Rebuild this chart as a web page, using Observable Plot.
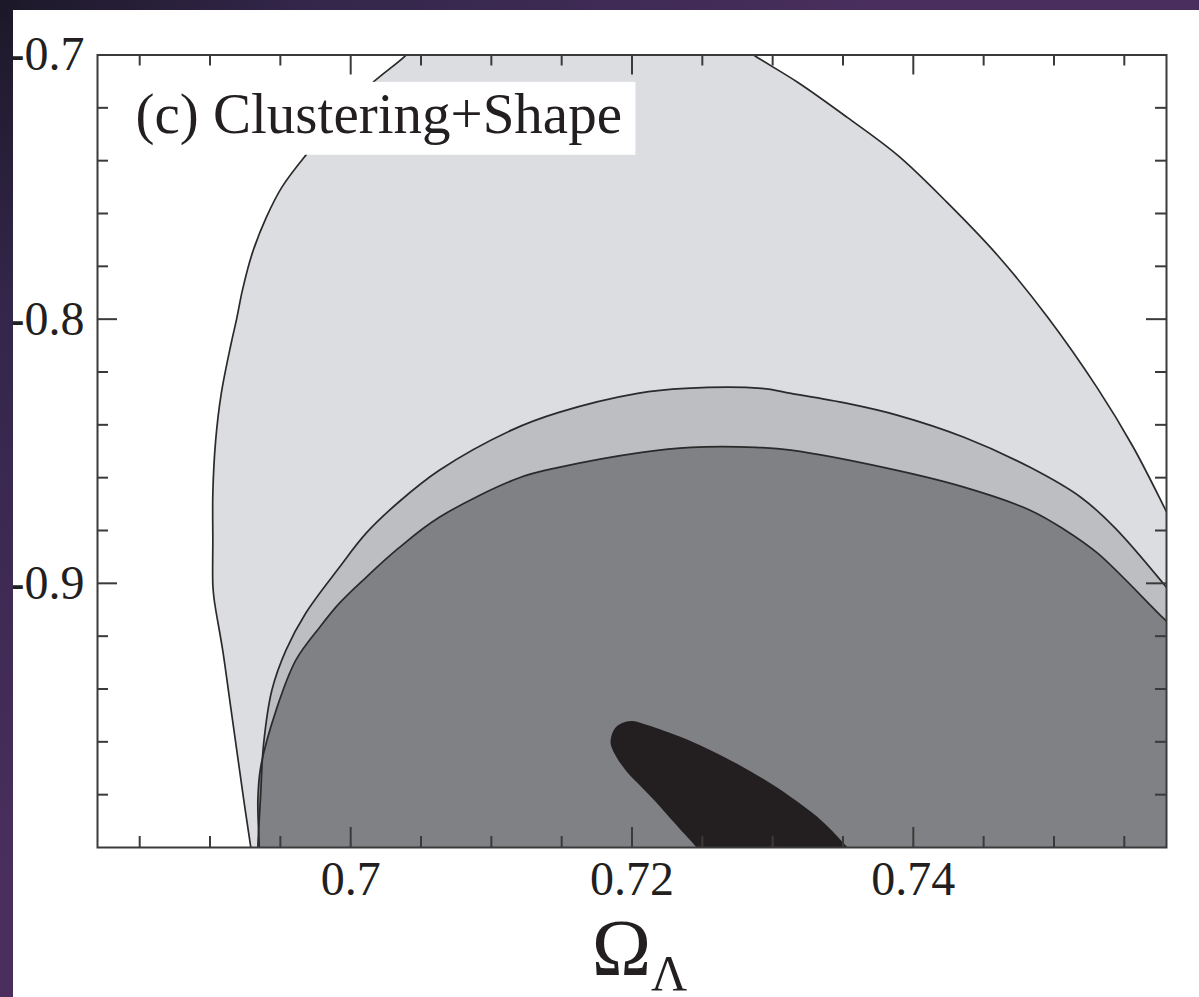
<!DOCTYPE html>
<html>
<head>
<meta charset="utf-8">
<script src="https://cdn.jsdelivr.net/npm/d3@7"></script>
<script src="https://cdn.jsdelivr.net/npm/@observablehq/plot@0.6"></script>
<style>
  html, body { margin: 0; padding: 0; }
  body {
    width: 1199px; height: 997px; overflow: hidden; position: relative;
    background: radial-gradient(circle at 0 0, #1c1828 0px, #33264a 300px, #4a2f5e 900px);
  }
  #panel {
    position: absolute; left: 13px; top: 10px; width: 1186px; height: 987px;
    background: #ffffff; overflow: hidden;
  }
</style>
</head>
<body>
<div id="panel"></div>
<script>
// ---- axes ----
const xDomain = [0.682, 0.758];
const yDomain = [-1.0, -0.7];
const xLabels = [0.7, 0.72, 0.74];
const xMinor = [0.685, 0.69, 0.695, 0.705, 0.71, 0.715, 0.725, 0.73, 0.735, 0.745, 0.75, 0.755];
const yLabels = [-0.9, -0.8, -0.7];
const yMinor = [-0.98, -0.96, -0.94, -0.92, -0.88, -0.86, -0.84, -0.82, -0.78, -0.76, -0.74, -0.72];
const panelLabel = "(c) Clustering+Shape";

// ---- contours [Omega_Lambda, w] ----
const outerLeft = [
  [0.6930, -1.0036], [0.6929, -1.0], [0.6924, -0.9821], [0.6919, -0.9631], [0.6914, -0.9442],
  [0.6909, -0.9253], [0.6903, -0.9064], [0.6902, -0.9007], [0.6902, -0.8837], [0.6902, -0.8659],
  [0.6904, -0.8459], [0.6908, -0.8281], [0.6915, -0.8092], [0.6919, -0.7997], [0.6923, -0.7891],
  [0.6930, -0.7751], [0.6940, -0.7615], [0.6951, -0.7501], [0.6968, -0.7380], [0.6990, -0.7244],
  [0.7014, -0.7112], [0.7039, -0.7002], [0.7045, -0.6964]
];
const outerRight = [
  [0.7277, -0.6964], [0.7287, -0.7002], [0.7318, -0.7104], [0.7353, -0.7236], [0.7389, -0.7380],
  [0.7424, -0.7558], [0.7460, -0.7759], [0.7495, -0.7989], [0.7531, -0.8262], [0.7556, -0.8481],
  [0.7577, -0.8697], [0.7587, -0.8807]
];
const middleContour = [
  [0.6934, -1.0048], [0.6934, -1.0], [0.6936, -0.9802], [0.6938, -0.9613], [0.6944, -0.9404],
  [0.6954, -0.9253], [0.6968, -0.9113], [0.6992, -0.8939], [0.7011, -0.8810], [0.7034, -0.8693],
  [0.7063, -0.8572], [0.7114, -0.8421], [0.7148, -0.8353], [0.7204, -0.8281], [0.7238, -0.8262],
  [0.7292, -0.8262], [0.7313, -0.8281], [0.7353, -0.8319], [0.7389, -0.8364], [0.7436, -0.8447],
  [0.7483, -0.8561], [0.7519, -0.8674], [0.7543, -0.8788], [0.7577, -0.8996], [0.7587, -0.9064]
];
const innerContour = [
  [0.6935, -1.0048], [0.6935, -1.0], [0.6934, -0.9821], [0.6936, -0.9696], [0.6947, -0.9480],
  [0.6961, -0.9291], [0.6978, -0.9166], [0.6992, -0.9075], [0.7011, -0.8977], [0.7034, -0.8867],
  [0.7063, -0.8750], [0.7119, -0.8602], [0.7148, -0.8561], [0.7207, -0.8504], [0.7242, -0.8485],
  [0.7288, -0.8485], [0.7313, -0.8496], [0.7382, -0.8565], [0.7436, -0.8636], [0.7483, -0.8723],
  [0.7507, -0.8795], [0.7531, -0.8886], [0.7577, -0.9128], [0.7587, -0.9177]
];
const bestFit = [
  [0.7185, -0.9586], [0.7188, -0.9548], [0.7193, -0.9529], [0.7200, -0.9521], [0.7209, -0.9533],
  [0.7233, -0.9578], [0.7254, -0.9627], [0.7275, -0.9684], [0.7297, -0.9752], [0.7318, -0.9828],
  [0.7336, -0.9904], [0.7351, -0.9987], [0.7358, -1.0032], [0.7251, -1.0032], [0.7245, -0.9994],
  [0.7238, -0.9953], [0.7227, -0.9888], [0.7217, -0.9828], [0.7206, -0.9767], [0.7196, -0.9711],
  [0.7189, -0.9658], [0.7185, -0.9612]
];

// ---- layout ----
const W = 1186, H = 987;
const mL = 84, mR = 33, mT = 44.5, mB = 150;
const innerW = W - mL - mR, innerH = H - mT - mB;
const labelDx = 38, labelDy = 77.5, labelSize = 57;

const below = yDomain[0] - 0.01, beyond = xDomain[1] + 0.003;
const closeRegion = pts => [...pts, [beyond, below], [pts[0][0], below]];
const outerRegion = closeRegion([...outerLeft, ...outerRight]);
const middleRegion = closeRegion(middleContour);
const innerRegion = closeRegion(innerContour);

const X = d => d[0], Y = d => d[1];
const lineColor = "#2a2a2a";
const axisColor = "#3a3a3a";
const serif = "'Liberation Serif', 'Times New Roman', Times, serif";

const plot = Plot.plot({
  width: W, height: H,
  marginLeft: mL, marginRight: mR, marginTop: mT, marginBottom: mB,
  x: {domain: xDomain},
  y: {domain: yDomain},
  style: {fontFamily: serif, fontSize: "48px", color: "#231f20", background: "white"},
  marks: [
    Plot.line(outerRegion, {x: X, y: Y, fill: "#dcdde0", stroke: "none", curve: "catmull-rom", clip: true}),
    Plot.line(middleRegion, {x: X, y: Y, fill: "#bdbec2", stroke: "none", curve: "catmull-rom", clip: true}),
    Plot.line(innerRegion, {x: X, y: Y, fill: "#808185", stroke: "none", curve: "catmull-rom", clip: true}),
    Plot.line(bestFit, {x: X, y: Y, fill: "#231f20", stroke: "none", curve: "catmull-rom-closed", clip: true}),
    Plot.line(outerLeft, {x: X, y: Y, stroke: lineColor, strokeWidth: 1.7, curve: "catmull-rom", clip: true}),
    Plot.line(outerRight, {x: X, y: Y, stroke: lineColor, strokeWidth: 1.7, curve: "catmull-rom", clip: true}),
    Plot.line(middleContour, {x: X, y: Y, stroke: lineColor, strokeWidth: 1.7, curve: "catmull-rom", clip: true}),
    Plot.line(innerContour, {x: X, y: Y, stroke: lineColor, strokeWidth: 1.7, curve: "catmull-rom", clip: true}),
    Plot.text([panelLabel], {frameAnchor: "top-left", dx: labelDx, dy: labelDy, lineAnchor: "bottom",
      textAnchor: "start", fontSize: labelSize, fontFamily: serif, fill: "#231f20"}),
    // inward ticks on all four sides
    Plot.ruleX(xLabels, {x: d => d, insetTop: innerH - 20, stroke: axisColor, strokeWidth: 2}),
    Plot.ruleX(xMinor, {x: d => d, insetTop: innerH - 11, stroke: axisColor, strokeWidth: 2}),
    Plot.ruleX(xLabels, {x: d => d, insetBottom: innerH - 20, stroke: axisColor, strokeWidth: 2}),
    Plot.ruleX(xMinor, {x: d => d, insetBottom: innerH - 11, stroke: axisColor, strokeWidth: 2}),
    Plot.ruleY(yLabels, {y: d => d, insetRight: innerW - 20, stroke: axisColor, strokeWidth: 2}),
    Plot.ruleY(yMinor, {y: d => d, insetRight: innerW - 11, stroke: axisColor, strokeWidth: 2}),
    Plot.ruleY(yLabels, {y: d => d, insetLeft: innerW - 20, stroke: axisColor, strokeWidth: 2}),
    Plot.ruleY(yMinor, {y: d => d, insetLeft: innerW - 11, stroke: axisColor, strokeWidth: 2}),
    Plot.frame({stroke: axisColor, strokeWidth: 2}),
    Plot.axisX(xLabels, {tickSize: 0, tickPadding: 13, tickFormat: d => String(d),
      fontSize: 48, fontFamily: serif, label: null}),
    Plot.axisY(yLabels, {tickSize: 0, tickPadding: 13, tickFormat: d => d.toFixed(1),
      fontSize: 48, fontFamily: serif, label: null})
  ]
});

document.getElementById("panel").appendChild(plot);

// white box behind the panel label (covers the contour, as in the original figure)
const svg = d3.select(plot);
const labelNode = svg.selectAll("text").filter(function () { return this.textContent === panelLabel; }).node();
let textLen = 486;
try { if (labelNode) textLen = labelNode.getComputedTextLength() || textLen; } catch (e) {}
const baseline = mT + labelDy;
const boxTop = baseline - 0.88 * labelSize;
const boxBottom = baseline + 0.40 * labelSize;
const box = document.createElementNS("http://www.w3.org/2000/svg", "rect");
box.setAttribute("x", mL + 1);
box.setAttribute("y", boxTop);
box.setAttribute("width", labelDx + textLen + 14 - 1);
box.setAttribute("height", boxBottom - boxTop);
box.setAttribute("fill", "#ffffff");
if (labelNode) {
  const g = labelNode.parentNode;
  g.parentNode.insertBefore(box, g);
}

// axis title  Ω_Λ
const title = svg.append("text")
  .attr("x", (mL + W - mR) / 2 + 8)
  .attr("y", H - 22)
  .attr("text-anchor", "middle")
  .attr("font-family", serif)
  .attr("font-size", 80)
  .attr("fill", "#231f20");
title.append("tspan").text("Ω");
title.append("tspan").attr("font-size", 50).attr("dy", 15).text("Λ");
</script>
</body>
</html>
